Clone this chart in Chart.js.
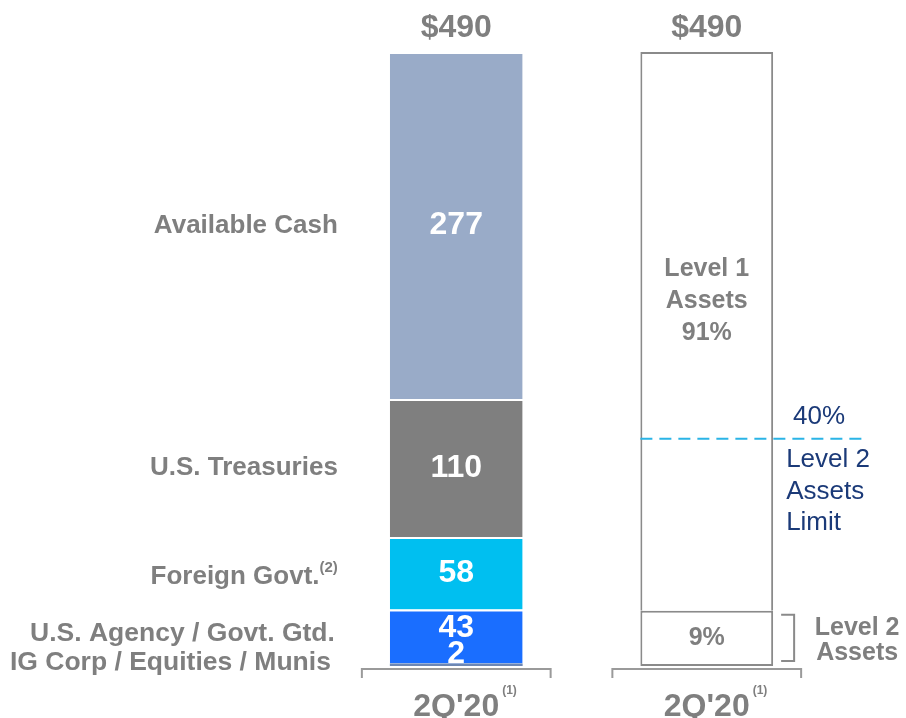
<!DOCTYPE html>
<html>
<head>
<meta charset="utf-8">
<title>Liquidity 2Q'20</title>
<style>
body {
	margin: 0;
	background: white;
}
#chart {
	display: block;
}
</style>
</head>
<body>
<canvas id="chart" width="906" height="718"></canvas>
<script src="https://cdn.jsdelivr.net/npm/chart.js@4/dist/chart.umd.min.js"></script>
<script>
// values, bottom segment first
var categories = ["2Q'20", "2Q'20"];
var segmentNames = ['IG Corp / Equities / Munis', 'U.S. Agency / Govt. Gtd.', 'Foreign Govt.', 'U.S. Treasuries', 'Available Cash'];
var segmentValues = [2, 43, 58, 110, 277];
var segmentColors = ['#6d87b3', '#1a6eff', '#00bff0', '#7f7f7f', '#99abc8'];
var totalLabels = ['$490', '$490'];
var levelNames = ['Level 2', 'Level 1'];
var levelPct = [9, 91];
// the dashed limit line sits a bit under 40% in the picture
var limitLinePct = 37;
var limitLabel = '40%';

var GREY = '#7f7f7f';
var NAVY = '#1b3a78';
var FONT = 'Arial, "Liberation Sans", sans-serif';

var datasets = [];
segmentValues.forEach(function(v, i) {
	datasets.push({
		label: segmentNames[i],
		data: [v, null],
		backgroundColor: segmentColors[i],
		borderColor: '#ffffff',
		//white gap between segments, not on the tiny bottom one
		borderWidth: (i == 0) ? 0 : {top: 2, left: 0, right: 0, bottom: 0},
		borderSkipped: false,
		yAxisID: 'y'
	});
});
levelPct.forEach(function(v, i) {
	datasets.push({
		label: levelNames[i],
		data: [null, v],
		backgroundColor: '#ffffff',
		borderColor: '#8a8a8a',
		borderWidth: (i == 0) ? 2 : {top: 2, left: 2, right: 2, bottom: 0},
		borderSkipped: false,
		yAxisID: 'y2'
	});
});

function txt(ctx, s, x, y, font, color, align) {
	ctx.font = font;
	ctx.fillStyle = color;
	ctx.textAlign = align || 'center';
	ctx.textBaseline = 'middle';
	ctx.fillText(s, x, y);
}

var decor = {
	id: 'decor',
	afterDatasetsDraw: function(chart) {
		var ctx = chart.ctx;
		var n = segmentValues.length;
		ctx.save();

		//left bar segment values and names
		for (var i = 0; i < n; i++) {
			var el = chart.getDatasetMeta(i).data[0];
			var mid = (el.y + el.base) / 2;
			var vy = mid, ny = mid;
			var lx = el.x - el.width / 2 - 52;
			if (i == 0) { vy = el.base - 12; ny = el.base - 3; lx -= 7; }
			else if (i == 1) { vy = mid - 8; ny = mid - 3; lx -= 3; }
			else if (i == 2) { ny = mid + 4; }
			txt(ctx, String(segmentValues[i]), el.x, vy, 'bold 32px ' + FONT, '#ffffff');
			if (i == 2) {
				ctx.font = 'bold 15px ' + FONT;
				var sw = ctx.measureText('(2)').width;
				txt(ctx, '(2)', lx, ny - 9, 'bold 15px ' + FONT, GREY, 'right');
				txt(ctx, segmentNames[i], lx - sw, ny, 'bold 26px ' + FONT, GREY, 'right');
			} else {
				var fs = (i < 2) ? 26.5 : 26;
				txt(ctx, segmentNames[i], lx, ny, 'bold ' + fs + 'px ' + FONT, GREY, 'right');
			}
		}

		var topL = chart.getDatasetMeta(n - 1).data[0];
		var lvl2 = chart.getDatasetMeta(n).data[1];
		var lvl1 = chart.getDatasetMeta(n + 1).data[1];
		var bars = [topL, lvl1];

		//totals, brackets and x labels
		bars.forEach(function(el, k) {
			txt(ctx, totalLabels[k], el.x, el.y - 24, 'bold 32px ' + FONT, GREY);
			var x0 = el.x - el.width / 2 - 28, x1 = el.x + el.width / 2 + 28;
			var by = chart.chartArea.bottom + 3;
			ctx.strokeStyle = '#9a9a9a';
			ctx.lineWidth = 2;
			ctx.setLineDash([]);
			ctx.beginPath();
			ctx.moveTo(x0, by + 9); ctx.lineTo(x0, by); ctx.lineTo(x1, by); ctx.lineTo(x1, by + 9);
			ctx.stroke();
			txt(ctx, categories[k], el.x, by + 38, 'bold 32px ' + FONT, GREY);
			ctx.font = 'bold 32px ' + FONT;
			var w = ctx.measureText(categories[k]).width;
			txt(ctx, '(1)', el.x + w / 2 + 3, by + 22, 'bold 12px ' + FONT, GREY, 'left');
		});

		//level texts inside right bar
		var l1mid = lvl1.y + (lvl1.base - lvl1.y) * 0.445;
		txt(ctx, 'Level 1', lvl1.x, l1mid - 32, 'bold 25px ' + FONT, GREY);
		txt(ctx, 'Assets', lvl1.x, l1mid, 'bold 25px ' + FONT, GREY);
		txt(ctx, levelPct[1] + '%', lvl1.x, l1mid + 32, 'bold 25px ' + FONT, GREY);
		var l2mid = (lvl2.y + lvl2.base) / 2;
		txt(ctx, levelPct[0] + '%', lvl2.x, l2mid, 'bold 25px ' + FONT, GREY);

		//bracket next to level 2
		var rx = lvl2.x + lvl2.width / 2;
		ctx.strokeStyle = '#8a8a8a';
		ctx.lineWidth = 2;
		ctx.beginPath();
		ctx.moveTo(rx + 8, lvl2.y + 4); ctx.lineTo(rx + 21, lvl2.y + 4);
		ctx.lineTo(rx + 21, lvl2.base - 5); ctx.lineTo(rx + 8, lvl2.base - 5);
		ctx.stroke();
		txt(ctx, 'Level 2', rx + 84, l2mid - 10, 'bold 25px ' + FONT, GREY);
		txt(ctx, 'Assets', rx + 84, l2mid + 15, 'bold 25px ' + FONT, GREY);

		//dashed limit line
		var ly = chart.scales.y2.getPixelForValue(limitLinePct);
		ctx.strokeStyle = '#2ab4e6';
		ctx.lineWidth = 2;
		ctx.setLineDash([12, 7]);
		ctx.beginPath();
		ctx.moveTo(lvl1.x - lvl1.width / 2, ly);
		ctx.lineTo(rx + 94, ly);
		ctx.stroke();
		ctx.setLineDash([]);
		txt(ctx, limitLabel, rx + 46, ly - 22, '26px ' + FONT, NAVY);
		txt(ctx, 'Level 2', rx + 13, ly + 21, '26px ' + FONT, NAVY, 'left');
		txt(ctx, 'Assets', rx + 13, ly + 53, '26px ' + FONT, NAVY, 'left');
		txt(ctx, 'Limit', rx + 13, ly + 84, '26px ' + FONT, NAVY, 'left');

		ctx.restore();
	}
};

var ctx = document.getElementById('chart').getContext('2d');
var myChart = new Chart(ctx, {
	type: 'bar',
	data: {
		labels: categories,
		datasets: datasets
	},
	options: {
		responsive: false,
		animation: false,
		barPercentage: 0.53,
		categoryPercentage: 1,
		layout: {
			padding: {left: 331, right: 74, top: 52, bottom: 52}
		},
		plugins: {
			legend: {display: false},
			tooltip: {enabled: false}
		},
		scales: {
			x: {stacked: true, display: false},
			y: {stacked: true, display: false, min: 0, max: 490},
			y2: {stacked: true, display: false, min: 0, max: 100}
		}
	},
	plugins: [decor]
});
</script>
</body>
</html>
